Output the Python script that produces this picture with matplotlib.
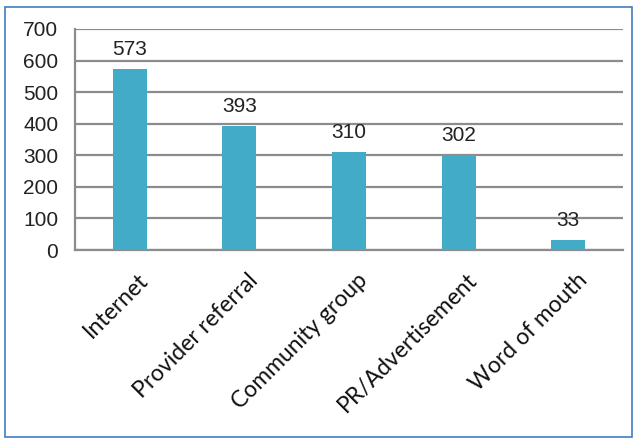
import matplotlib
matplotlib.use("Agg")
import matplotlib.pyplot as plt
from matplotlib.patches import Rectangle
from matplotlib.transforms import ScaledTranslation

categories = ["Internet", "Provider referral", "Community group",
              "PR/Advertisement", "Word of mouth"]
values = [573, 393, 310, 302, 33]
y_ticks = [0, 100, 200, 300, 400, 500, 600, 700]

fig = plt.figure(figsize=(6.37, 4.40), dpi=100)
ax = fig.add_axes([75/637, 1 - 250/440, 548/637, 221/440])

x = list(range(len(categories)))
bars = ax.bar(x, values, width=0.31, color="#41abc8", zorder=3)
for xi, v in zip(x, values):
    ax.annotate(str(v), (xi, v), xytext=(0, 7), textcoords="offset points",
                ha="center", va="bottom", fontsize=15,
                family="Liberation Sans", color="#222222")

ax.set_ylim(0, 700)
ax.set_xlim(-0.5, len(categories) - 0.5)
ax.set_yticks(y_ticks)
ax.set_yticklabels([str(t) for t in y_ticks], family="Liberation Sans", fontsize=15)
ax.yaxis.grid(True, color="#8c8c8c", linewidth=1.6, zorder=0)
ax.set_axisbelow(True)
ax.tick_params(axis="y", length=0, pad=12, colors="#222222")
ax.tick_params(axis="x", length=0, pad=14)
ax.set_xticks(x)
ax.set_xticklabels(categories, rotation=45, ha="right", rotation_mode="anchor",
                   family="Lato", fontsize=16.5, color="#111111")
offset = ScaledTranslation(8/100, 0, fig.dpi_scale_trans)
for lbl in ax.get_xticklabels():
    lbl.set_transform(lbl.get_transform() + offset)
for s in ["top", "right"]:
    ax.spines[s].set_visible(False)
ax.spines["left"].set_color("#8c8c8c")
ax.spines["left"].set_linewidth(1.6)
ax.spines["bottom"].set_color("#8c8c8c")
ax.spines["bottom"].set_linewidth(1.6)

fig.patches.append(Rectangle((5/637, 3/440), 627/637, 430/440, transform=fig.transFigure,
                             fill=False, edgecolor="#3d7fc1", linewidth=1.2))

fig.savefig("out.png", dpi=100)
